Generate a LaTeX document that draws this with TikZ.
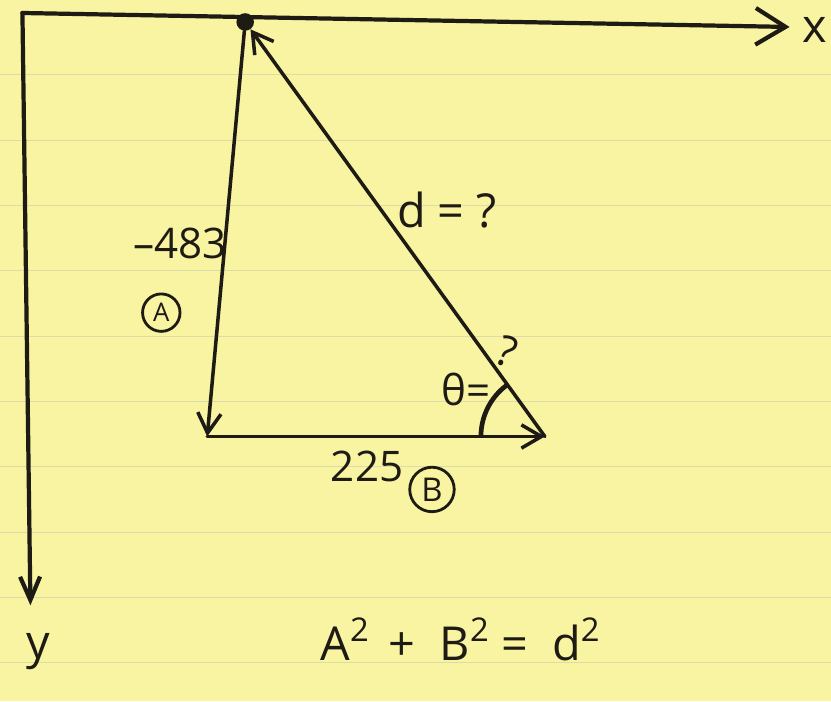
\documentclass[tikz,border=0pt]{standalone}
\usepackage{fontspec}
\setmainfont{Open Sans}
\usepackage{xcolor}
\usepackage{tikz}
\usetikzlibrary{arrows.meta,positioning,calc}

\definecolor{paper}{RGB}{249,244,162}
\definecolor{rule}{RGB}{222,219,170}
\definecolor{ink}{RGB}{30,26,20}
\newcommand{\sqr}{\raisebox{0.75ex}{\fontsize{28}{30}\selectfont 2}}

\begin{document}
\begin{tikzpicture}[x=0.03cm,y=-0.03cm,
    axis/.style={draw=ink,line width=3.6pt,line cap=round,line join=round},
    tri/.style={draw=ink,line width=3pt,line cap=round},
    big/.style={text=ink,font=\fontsize{40}{46}\selectfont},
    mid/.style={text=ink,font=\fontsize{36}{42}\selectfont},
    ring/.style={circle,draw=ink,line width=2.4pt,inner sep=0pt,text=ink},
    dot/.style={circle,fill=ink,inner sep=0pt}]
  % paper
  \fill[paper] (0,0) rectangle (831,702);
  \foreach \k in {0,...,9}
    \draw[rule,line width=0.8pt] (0,75+65.4*\k) -- (831,75+65.4*\k);
  \useasboundingbox (0,0) rectangle (831,702);

  % axes
  \coordinate (ax) at (22,13);
  \coordinate (xtip) at (790,27);
  \coordinate (ytip) at (30,606);
  \draw[axis,-{Straight Barb[length=9mm,width=11mm,line width=3.6pt]}] (ax) -- (xtip);
  \draw[axis,-{Straight Barb[length=7mm,width=6mm,line width=3.6pt]}] (ax) -- (ytip);
  \node[big] (xlbl) at (815,30) {x};
  \node[big] (ylbl) at (38,652) {y};

  % triangle
  \node[dot,minimum size=15pt] (O) at (245,22) {};
  \coordinate (C) at (207,437);
  \coordinate (R) at (545,437);
  \draw[tri,-{Straight Barb[length=6mm,width=7mm,line width=3pt]}] (O) -- (C);
  \draw[tri,-{Straight Barb[length=6mm,width=7mm,line width=3pt]}] (C) -- (R);
  \draw[tri,-{Straight Barb[length=6mm,width=7mm,line width=3pt]}] (R) -- (O);
  \draw[ink,line width=4pt] ($(R)+(-64,0)$) arc[start angle=180,end angle=233,radius=64];

  % labels
  \node[mid] (side) at (180,244) {--483};
  \node[ring,minimum size=32pt,font=\fontsize{22}{24}\selectfont] (A) at (161,313) {A};
  \node[big] (hyp) at (447,210) {d = ?};
  \node[mid] (th) at (466,390) {θ=};
  \node[mid,rotate=-20] (q) at (507,352) {?};
  \node[mid] (base) at (367,467) {225};
  \node[ring,minimum size=38pt,font=\fontsize{28}{30}\selectfont] (B) at (432,490) {B};
  \node[big] (eq) at (460,640) {A\sqr\ \,+\ \ B\sqr\ =\ \ d\sqr};
\end{tikzpicture}
\end{document}
